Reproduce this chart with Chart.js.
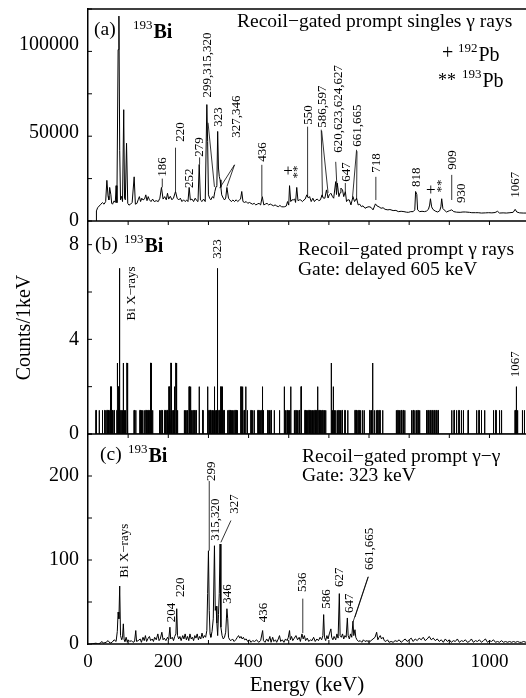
<!DOCTYPE html>
<html>
<head>
<meta charset="utf-8">
<script src="https://cdn.jsdelivr.net/npm/chart.js@4.4.0/dist/chart.umd.min.js"></script>
<style>
  body { margin: 0; background: #fff; }
  #wrap { position: relative; width: 526px; height: 698px; overflow: hidden; background: #fff; }
  canvas { position: absolute; left: 0; }
</style>
</head>
<body>
<div id="wrap">
  <canvas id="panelA" width="526" height="245" style="top:0px"></canvas>
  <canvas id="panelB" width="526" height="255" style="top:200px"></canvas>
  <canvas id="panelC" width="526" height="286" style="top:412px"></canvas>
</div>
<script>
var FONT = '"Liberation Serif", "Times New Roman", serif';

// (a) recoil-gated singles, counts per keV
var singlesKeV = [
  20, 21, 24, 28, 32, 36, 40, 44, 47, 50,
  52, 54, 57, 59, 61, 65, 68, 70, 72, 75,
  77, 79, 81, 84, 86, 89, 91, 93, 96, 99,
  102, 106, 110, 115, 118, 122, 125, 128, 131, 134,
  137, 141, 144, 147, 150, 153, 157, 161, 165, 170,
  175, 179, 183, 187, 191, 195, 198, 201, 205, 209,
  213, 218, 222, 226, 230, 234, 238, 242, 246, 249,
  252, 255, 259, 263, 267, 271, 274, 277, 280, 284,
  288, 292, 296, 298, 300, 303, 306, 310, 313, 316,
  319, 321, 323, 325, 327, 329, 331, 333, 337, 340,
  343, 346, 350, 353, 357, 361, 365, 369, 373, 377,
  380, 383, 386, 390, 394, 398, 402, 406, 410, 414,
  418, 422, 426, 430, 434, 438, 442, 446, 450, 454,
  458, 462, 466, 470, 474, 478, 482, 486, 490, 494,
  497, 500, 502, 505, 508, 511, 515, 517, 520, 523,
  527, 530, 534, 538, 541, 545, 549, 552, 556, 560,
  564, 567, 571, 575, 579, 583, 586, 590, 594, 598,
  601, 605, 609, 612, 617, 619, 621, 625, 628, 630,
  634, 637, 641, 644, 647, 651, 655, 660, 664, 669,
  673, 677, 681, 685, 690, 695, 700, 705, 710, 716,
  720, 725, 730, 735, 740, 747, 752, 760, 767, 773,
  780, 787, 793, 798, 804, 810, 814, 816, 819, 821,
  826, 832, 838, 843, 848, 851, 853, 856, 859, 865,
  871, 876, 879, 881, 884, 887, 893, 900, 906, 911,
  918, 927, 934, 940, 950, 956, 965, 972, 980, 990,
  998, 1006, 1014, 1020, 1025, 1034, 1042, 1051, 1059, 1064,
  1068, 1075, 1084, 1091
];
var singlesCounts = [
  0, 5700, 7500, 8500, 9500, 10400, 9500, 11000, 23000, 14000,
  12000, 19000, 14800, 10000, 9500, 11400, 10500, 20000, 10400, 97000,
  116000, 40000, 12000, 14000, 11000, 63000, 13000, 12000, 44000, 10000,
  9000, 9500, 10500, 25000, 9500, 10000, 12000, 13800, 11000, 12900,
  11900, 12500, 14800, 11500, 13800, 12000, 11000, 12400, 11000, 11500,
  11000, 12900, 19000, 12400, 13800, 12000, 15700, 12400, 14000, 12000,
  13000, 16700, 12900, 11900, 12900, 11000, 12000, 11000, 11900, 11000,
  19000, 11900, 12400, 11000, 12900, 11500, 11000, 32000, 11900, 11000,
  12400, 11000, 65900, 45000, 14800, 12900, 12000, 13800, 12900, 16700,
  19500, 20000, 50700, 30000, 25200, 23300, 19000, 14800, 12900, 11900,
  13000, 19000, 12900, 12000, 11000, 11900, 11000, 12000, 11000, 11900,
  12400, 16700, 11000, 10500, 11000, 10000, 10500, 10000, 9500, 10000,
  9100, 9600, 10000, 9100, 13800, 9100, 9600, 10000, 9100, 9600,
  9100, 8600, 9100, 8500, 8100, 8800, 8100, 8000, 8100, 8500,
  11000, 9000, 20000, 11000, 12000, 11900, 12400, 10500, 19000, 11500,
  12000, 11900, 11000, 11900, 12400, 14800, 13000, 13800, 11000, 12900,
  11000, 11900, 12400, 11500, 12000, 14800, 13000, 12900, 17600, 13000,
  14800, 15700, 13800, 12900, 22300, 15000, 21400, 13800, 16000, 18600,
  17600, 13800, 16700, 11000, 12000, 11900, 9100, 13800, 11000, 12900,
  9100, 9500, 8100, 8600, 7200, 7800, 8100, 7700, 6300, 9700,
  8500, 8000, 7200, 7500, 6600, 6300, 6500, 5900, 6000, 5300,
  5500, 5300, 5000, 4900, 5300, 5300, 6300, 16700, 15000, 6300,
  5300, 5500, 5300, 5600, 6600, 9000, 12600, 8000, 6600, 5600,
  5100, 5800, 8000, 12600, 7000, 6300, 5100, 5800, 6300, 5300,
  5000, 4900, 5100, 5100, 4900, 4700, 4700, 4700, 4500, 4600,
  4700, 4600, 4800, 5500, 4500, 4600, 4500, 4700, 4900, 6600,
  5100, 4600, 4500, 4500
];

// (b) gate on delayed 605 keV: 1 keV bins holding 1, 2 or 3 counts, plus the tall ones
var gateOnes = [20, 28, 36, 42, 47, 48, 50, 51, 53, 55, 56, 58, 60, 61, 65, 72, 82, 86, 91, 93, 99, 115, 119,
  128, 130, 133, 136, 140, 144, 147, 150, 152, 155, 158, 161, 178, 181, 184, 186, 190, 192, 195, 197, 199,
  201, 204, 206, 208, 211, 213, 216, 218, 221, 223, 240, 243, 246, 248, 255, 258, 261, 264, 269, 286, 301,
  304, 306, 310, 312, 318, 320, 326, 329, 334, 337, 339, 348, 351, 354, 357, 360, 363, 366, 369, 372, 389,
  397, 406, 410, 414, 423, 426, 430, 433, 437, 448, 452, 456, 464, 477, 492, 496, 499, 502, 514, 518, 522,
  526, 530, 539, 541, 544, 547, 550, 553, 556, 559, 562, 565, 568, 575, 578, 581, 585, 589, 592, 609, 614,
  617, 621, 625, 629, 633, 640, 647, 665, 668, 672, 675, 679, 684, 688, 702, 706, 713, 718, 722, 727, 734,
  768, 772, 776, 780, 785, 789, 806, 810, 814, 818, 822, 826, 843, 847, 852, 857, 862, 867, 872, 906, 912,
  918, 924, 930, 935, 947, 968, 974, 980, 988, 1010, 1016, 1025, 1030, 1064, 1070, 1082, 1087];
var gateTwos = [57, 59, 75, 77, 202, 215, 252, 256, 277, 298, 315, 331, 335, 381, 385, 393, 435, 489, 505,
  531, 572, 611, 1067];
var gateThrees = [73, 88, 97, 157, 207, 219, 606, 709];
var gatePeakKeV = [79, 322, 323];
var gatePeakCounts = [7, 4, 7];

// (c) gamma-gamma gated on 323 keV
var ggKeV = [
  8, 20, 25, 30, 35, 38, 45, 50, 55, 60,
  65, 70, 73, 75, 77, 79, 81, 84, 86, 88,
  90, 92, 95, 98, 100, 104, 108, 112, 116, 119,
  121, 125, 130, 133, 137, 140, 143, 146, 150, 153,
  156, 160, 163, 166, 170, 174, 177, 180, 184, 187,
  190, 194, 198, 201, 204, 206, 210, 213, 216, 219,
  221, 223, 226, 229, 232, 236, 239, 242, 245, 248,
  251, 254, 257, 260, 263, 266, 269, 272, 275, 278,
  281, 284, 287, 290, 293, 296, 298, 300, 302, 304,
  306, 309, 312, 315, 317, 319, 321, 323, 325, 327,
  329, 331, 334, 337, 340, 343, 346, 348, 350, 353,
  356, 360, 364, 368, 372, 375, 378, 381, 384, 387,
  390, 394, 398, 402, 406, 410, 415, 420, 425, 430,
  435, 437, 441, 445, 449, 453, 456, 460, 463, 467,
  470, 474, 477, 480, 484, 488, 492, 496, 499, 502,
  504, 507, 510, 514, 518, 522, 526, 529, 533, 536,
  539, 542, 546, 550, 554, 558, 562, 566, 570, 574,
  578, 582, 585, 587, 589, 592, 595, 598, 601, 605,
  607, 610, 613, 617, 620, 623, 626, 628, 631, 634,
  637, 640, 643, 646, 648, 651, 654, 657, 660, 662,
  665, 667, 670, 674, 678, 682, 686, 690, 695, 700,
  705, 710, 715, 719, 722, 725, 728, 731, 735, 738,
  742, 746, 750, 755, 760, 765, 770, 775, 780, 785,
  790, 795, 800, 805, 810, 815, 820, 825, 830, 835,
  840, 845, 850, 855, 860, 865, 870, 875, 880, 885,
  890, 895, 900, 905, 910, 915, 920, 925, 930, 935,
  940, 945, 950, 955, 960, 965, 970, 975, 980, 985,
  990, 995, 1000, 1005, 1010, 1015, 1020, 1025, 1030, 1035,
  1040, 1045, 1050, 1055, 1060, 1065, 1070, 1075, 1080, 1085,
  1091
];
var ggCounts = [
  0, 1, 0, 1, 3, 1, 2, 4, 1, 2,
  5, 3, 15, 38, 30, 69, 10, 5, 8, 24,
  5, 3, 8, 2, 5, 3, 4, 2, 3, 16,
  3, 4, 6, 2, 8, 4, 10, 3, 7, 9,
  4, 6, 3, 8, 5, 12, 4, 6, 14, 5,
  7, 4, 8, 5, 20, 6, 8, 4, 9, 12,
  42, 10, 6, 9, 4, 10, 6, 12, 5, 9,
  4, 12, 6, 8, 4, 10, 7, 12, 5, 9,
  6, 13, 7, 10, 8, 16, 60, 111, 40, 12,
  8, 15, 30, 117, 40, 45, 25, 10, 35, 60,
  119, 20, 10, 6, 8, 14, 42, 30, 8, 5,
  4, 6, 3, 5, 8, 10, 7, 9, 6, 8,
  5, 6, 3, 5, 2, 4, 3, 5, 2, 4,
  16, 4, 2, 6, 3, 9, 2, 8, 3, 5,
  2, 6, 10, 3, 5, 2, 6, 4, 8, 16,
  5, 9, 4, 7, 10, 5, 8, 3, 12, 6,
  10, 4, 7, 3, 5, 4, 8, 3, 6, 4,
  8, 5, 10, 35, 8, 4, 10, 6, 12, 18,
  8, 5, 9, 5, 12, 7, 60, 10, 8, 12,
  6, 10, 8, 31, 10, 6, 12, 8, 27, 10,
  17, 8, 5, 3, 4, 2, 5, 3, 4, 2,
  4, 6, 8, 14, 5, 8, 10, 6, 8, 4,
  3, 5, 2, 3, 2, 4, 3, 5, 2, 4,
  6, 3, 5, 7, 3, 6, 4, 7, 5, 8,
  4, 6, 9, 5, 7, 4, 6, 3, 5, 2,
  6, 3, 5, 2, 4, 3, 6, 2, 4, 3,
  5, 2, 3, 6, 2, 4, 3, 5, 2, 4,
  6, 2, 4, 3, 5, 2, 3, 2, 4, 2,
  3, 2, 3, 2, 3, 2, 3, 2, 2, 3,
  2
];

// tick labels
var xTickLabels = [0, 200, 400, 600, 800, 1000];
var aYLabels = [0, 50000, 100000];
var bYLabels = [0, 4, 8];
var cYLabels = [0, 100, 200];

// peak labels: text, keV, value where the (rotated) text starts
var aPeakLabels = [
  ['186', 185, 25000], ['220', 230, 44900], ['252', 253, 18700], ['279', 278, 36400],
  ['299,315,320', 299, 69900], ['323', 325, 53400], ['327,346', 371, 47100], ['436', 436, 33500],
  ['+', 498, 27800, 'flat'], ['**', 523, 24100], ['550', 550, 54500], ['586,597', 585, 52800],
  ['620,623,624,627', 625, 38600], ['647', 644, 22200], ['661,665', 672, 42000], ['718', 719, 27300],
  ['818', 818, 19300], ['+', 854, 17000, 'flat'], ['**', 881, 16200], ['909', 908, 29000],
  ['930', 930, 10200], ['1067', 1064, 13100]
];
var aLeaders = [
  [185, 24000, 185, 19000], [218, 41500, 218, 16700], [278, 36000, 278, 32000],
  [299, 55600, 315, 19300], [365, 31800, 328, 18600], [365, 31800, 346, 19500],
  [433, 31800, 433, 13800], [547, 53400, 547, 13600], [581, 51700, 584, 13600],
  [582, 51000, 598, 15900], [617, 33500, 620, 19300], [641, 21500, 641, 16700],
  [669, 40300, 659, 13600], [670, 39500, 669, 11900], [717, 25000, 717, 11900],
  [906, 26100, 906, 11900]
];
var bPeakLabels = [['Bi X\u2212rays', 108, 4.8], ['323', 323, 7.4], ['1067', 1066, 2.4]];
var cPeakLabels = [
  ['Bi X\u2212rays', 90, 79], ['204', 207, 26], ['220', 230, 56], ['299', 308, 194],
  ['315,320', 319, 123], ['327', 364, 155], ['346', 348, 48], ['436', 437, 26],
  ['536', 535, 62], ['586', 594, 42], ['627', 627, 68], ['647', 652, 37], ['661,665', 702, 88]
];
var cLeaders = [
  [302, 194, 302, 111], [356, 147, 331, 121], [535, 54, 535, 13],
  [698, 80, 665, 32], [698, 80, 660, 26]
];

function toPoints(xs, ys) {
  return xs.map(function (x, i) { return {x: x, y: ys[i]}; });
}

function gateBins() {
  var bins = {};
  function put(list, c) { list.forEach(function (e) { bins[e] = Math.max(bins[e] || 0, c); }); }
  put(gateOnes, 1); put(gateTwos, 2); put(gateThrees, 3);
  gatePeakKeV.forEach(function (e, i) { bins[e] = Math.max(bins[e] || 0, gatePeakCounts[i]); });
  var pts = [];
  Object.keys(bins).map(Number).sort(function (a, b) { return a - b; }).forEach(function (e) {
    pts.push({x: e - 0.5, y: 0}, {x: e - 0.5, y: bins[e]}, {x: e + 0.5, y: bins[e]}, {x: e + 0.5, y: 0});
  });
  return pts;
}

function say(ctx, s, x, y, size, weight) {
  ctx.font = (weight || '') + ' ' + size + 'px ' + FONT;
  ctx.textAlign = 'left';
  ctx.textBaseline = 'middle';
  ctx.fillText(s, x, y);
}

// mass number as superscript in front of the element
function isotope(ctx, mass, sym, x, base, weight) {
  ctx.textAlign = 'left';
  ctx.textBaseline = 'alphabetic';
  ctx.font = '13px ' + FONT;
  ctx.fillText(mass, x, base - 9);
  var w = ctx.measureText(mass).width;
  ctx.font = (weight || '') + ' 20px ' + FONT;
  ctx.fillText(sym, x + w + 1, base);
}

function decorations(cfg) {
  return {
    id: 'decor',
    afterDatasetsDraw: function (chart) {
      var ctx = chart.ctx, a = chart.chartArea, xs = chart.scales.x, ys = chart.scales.y;
      ctx.save();
      ctx.strokeStyle = '#000';
      ctx.fillStyle = '#000';

      ctx.lineWidth = 1.5;
      ctx.beginPath();
      if (cfg.frameTop) { ctx.moveTo(a.left, a.top); ctx.lineTo(a.right, a.top); }
      ctx.moveTo(a.left - 0.75, a.bottom); ctx.lineTo(a.right, a.bottom);
      ctx.stroke();

      // short inward ticks
      ctx.lineWidth = 1;
      ctx.beginPath();
      ys.ticks.forEach(function (t) {
        var py = ys.getPixelForValue(t.value);
        ctx.moveTo(a.left, py); ctx.lineTo(a.left + 4, py);
      });
      for (var v = 100; v < xs.max; v += 100) {
        var px = xs.getPixelForValue(v);
        ctx.moveTo(px, a.bottom); ctx.lineTo(px, a.bottom + cfg.xTickDir * 4);
      }
      ctx.stroke();

      ctx.font = '20px ' + FONT;
      ctx.textAlign = 'right';
      ctx.textBaseline = 'middle';
      cfg.yLabels.forEach(function (v) { ctx.fillText(String(v), a.left - 9, ys.getPixelForValue(v)); });

      if (cfg.bottomAxis) {
        ctx.font = '19px ' + FONT;
        ctx.textAlign = 'center';
        xTickLabels.forEach(function (v) { ctx.fillText(String(v), xs.getPixelForValue(v), a.bottom + 18); });
      }

      ctx.lineWidth = 0.8;
      ctx.beginPath();
      cfg.leaders.forEach(function (l) {
        ctx.moveTo(xs.getPixelForValue(l[0]), ys.getPixelForValue(l[1]));
        ctx.lineTo(xs.getPixelForValue(l[2]), ys.getPixelForValue(l[3]));
      });
      ctx.stroke();

      cfg.peaks.forEach(function (p) {
        ctx.save();
        ctx.translate(xs.getPixelForValue(p[1]), ys.getPixelForValue(p[2]));
        if (p[3] === 'flat') {
          ctx.font = '17px ' + FONT; ctx.textAlign = 'center';
        } else {
          ctx.rotate(-Math.PI / 2); ctx.font = '13px ' + FONT; ctx.textAlign = 'left';
        }
        ctx.textBaseline = 'middle';
        ctx.fillText(p[0], 0, 0);
        ctx.restore();
      });

      ctx.translate(0, -cfg.top);
      cfg.headers(ctx);
      ctx.restore();
    }
  };
}

function makePanel(id, cfg) {
  var xScale = {type: 'linear', min: 0, max: 1091, display: false};
  if (cfg.bottomAxis) {
    xScale = {
      type: 'linear', min: 0, max: 1091,
      afterFit: function (s) { s.height = 54; },
      ticks: {display: false, stepSize: 100},
      grid: {drawOnChartArea: false, drawTicks: false},
      border: {display: false},
      title: {display: true, text: 'Energy (keV)', color: '#000', font: {family: FONT, size: 21}, padding: {top: 0, bottom: 0}}
    };
  }
  return new Chart(document.getElementById(id), {
    type: 'line',
    data: {datasets: [{
      data: cfg.data, borderColor: '#000', borderWidth: cfg.lineWidth || 1,
      pointRadius: 0, tension: 0, fill: false
    }]},
    options: {
      responsive: false,
      devicePixelRatio: 1,
      animation: false,
      layout: {padding: cfg.padding},
      plugins: {legend: {display: false}, tooltip: {enabled: false}},
      scales: {
        x: xScale,
        y: {
          type: 'linear', min: 0, max: cfg.yMax,
          afterFit: function (s) { s.width = 88; },
          ticks: {display: false, stepSize: cfg.yStep, includeBounds: false},
          grid: {drawOnChartArea: false, drawTicks: false},
          border: {display: true, color: '#000', width: 1.5},
          title: cfg.yTitle || {display: false}
        }
      }
    },
    plugins: [decorations(cfg)]
  });
}

makePanel('panelA', {
  top: 0, padding: {top: 9, bottom: 24, left: 0, right: 0},
  data: toPoints(singlesKeV, singlesCounts), yMax: 120000, yStep: 25000,
  yLabels: aYLabels, frameTop: true, xTickDir: 1,
  peaks: aPeakLabels, leaders: aLeaders,
  headers: function (ctx) {
    say(ctx, '(a)', 94, 30, 19.5);
    isotope(ctx, '193', 'Bi', 133, 38, 'bold');
    say(ctx, 'Recoil\u2212gated prompt singles \u03b3 rays', 237, 22, 19.5);
    say(ctx, '+', 442, 54, 20);
    isotope(ctx, '192', 'Pb', 458, 61);
    say(ctx, '**', 438, 81, 18);
    isotope(ctx, '193', 'Pb', 462, 87);
  }
});

makePanel('panelB', {
  top: 200, padding: {top: 21, bottom: 21, left: 0, right: 0},
  data: gateBins(), yMax: 9, yStep: 2,
  yLabels: bYLabels, frameTop: false, xTickDir: 1,
  peaks: bPeakLabels, leaders: [],
  yTitle: {display: true, text: 'Counts/1keV', color: '#000', font: {family: FONT, size: 20}, padding: {top: 13, bottom: 0}},
  headers: function (ctx) {
    say(ctx, '(b)', 95, 245, 19.5);
    isotope(ctx, '193', 'Bi', 124, 252, 'bold');
    say(ctx, 'Recoil\u2212gated prompt \u03b3 rays', 298, 250, 19.5);
    say(ctx, 'Gate: delayed 605 keV', 298, 270, 19.5);
  }
});

makePanel('panelC', {
  top: 412, padding: {top: 22, bottom: 0, left: 0, right: 0}, bottomAxis: true,
  data: toPoints(ggKeV, ggCounts), yMax: 250, yStep: 50,
  yLabels: cYLabels, frameTop: false, xTickDir: -1,
  peaks: cPeakLabels, leaders: cLeaders,
  headers: function (ctx) {
    say(ctx, '(c)', 100, 455, 19.5);
    isotope(ctx, '193', 'Bi', 128, 462, 'bold');
    say(ctx, 'Recoil\u2212gated prompt \u03b3\u2212\u03b3', 302, 457, 19.5);
    say(ctx, 'Gate: 323 keV', 302, 476, 19.5);
  }
});
</script>
</body>
</html>
